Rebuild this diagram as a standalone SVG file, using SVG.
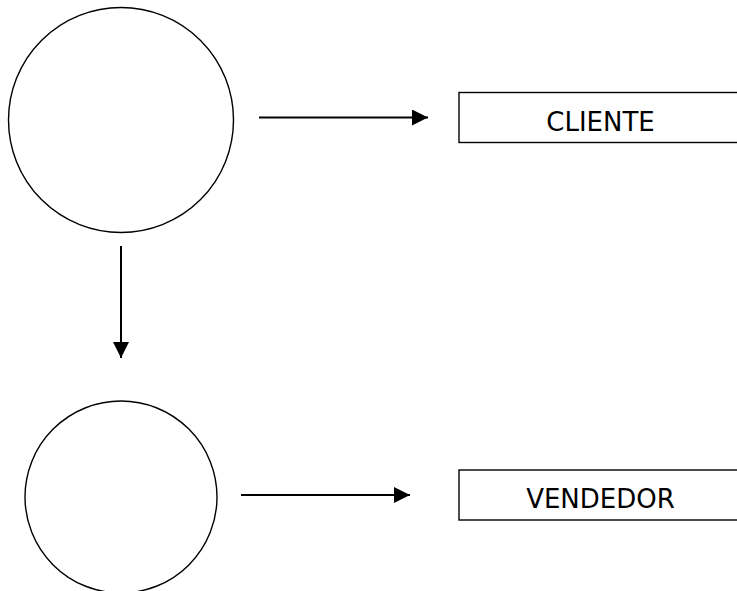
<svg xmlns="http://www.w3.org/2000/svg" width="737" height="591" viewBox="0 0 737 591">
<defs>
<style>
.shape{fill:#fff;stroke:#000;stroke-width:1.4}
.conn{fill:none;stroke:#000;stroke-width:2}
.lbl{font-family:"DejaVu Sans","Verdana",sans-serif;font-size:26px;fill:#000;text-anchor:middle}
</style>
<marker id="ah" markerUnits="userSpaceOnUse" markerWidth="16" markerHeight="16" viewBox="0 0 16 16" refX="16" refY="8" orient="auto">
<path d="M0,0 L16,8 L0,16 Z" fill="#000"/>
</marker>
</defs>
<rect width="737" height="591" fill="#fff"/>
<g id="circle1"><circle class="shape" cx="121" cy="120" r="112.5"/></g>
<g id="circle2"><circle class="shape" cx="121" cy="497" r="96"/></g>
<g id="cliente"><rect class="shape" x="459" y="92.5" width="290" height="50"/><text class="lbl" x="600.5" y="131">CLIENTE</text></g>
<g id="vendedor"><rect class="shape" x="459" y="470" width="290" height="50"/><text class="lbl" x="600.5" y="507.5">VENDEDOR</text></g>
<g id="connectors">
<line class="conn" x1="259" y1="117.5" x2="428" y2="117.5" marker-end="url(#ah)"/>
<line class="conn" x1="121" y1="246" x2="121" y2="358" marker-end="url(#ah)"/>
<line class="conn" x1="241" y1="495" x2="410" y2="495" marker-end="url(#ah)"/>
</g>
</svg>
